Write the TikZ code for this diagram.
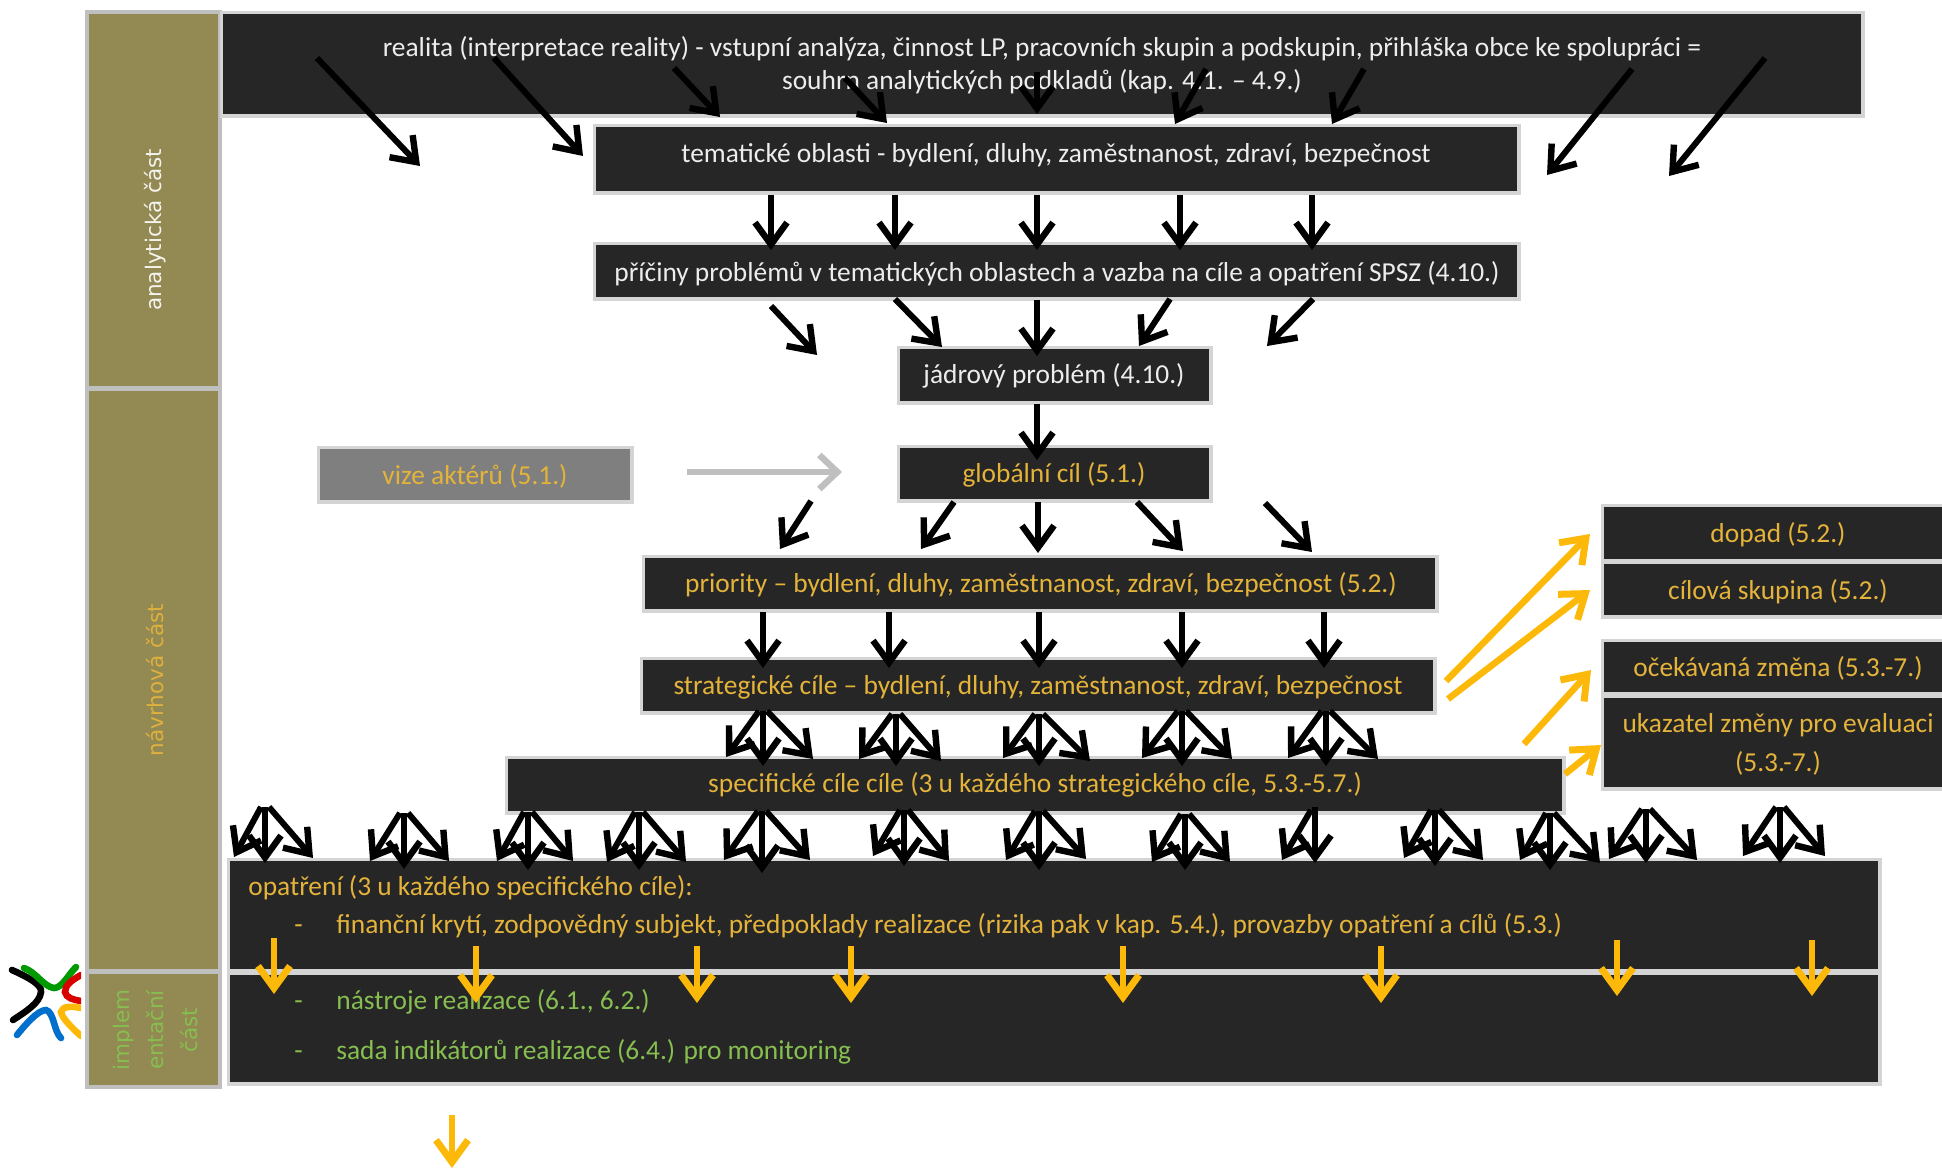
\documentclass[tikz,border=0pt]{standalone}
\usepackage{fontspec}
\setmainfont{Carlito}
\newfontfamily\vfont{DejaVu Sans}
\usetikzlibrary{arrows.meta}
\definecolor{boxdark}{HTML}{262626}
\definecolor{boxedge}{HTML}{D4D4D4}
\definecolor{olivebar}{HTML}{938953}
\definecolor{baredge}{HTML}{BFBFBF}
\definecolor{txtamber}{HTML}{E4B33A}
\definecolor{txtgreen}{HTML}{86BE50}
\definecolor{arramber}{HTML}{FDB90A}
\definecolor{visegray}{HTML}{7F7F7F}
\tikzset{
  x=0.5pt,y=-0.5pt,
  boxbase/.style={rectangle,inner sep=0pt,outer sep=0pt},
  darkbox/.style={boxbase,fill=boxdark,draw=boxedge,line width=1.75pt},
  graybox/.style={boxbase,fill=visegray,draw=boxedge,line width=1.75pt},
  barbox/.style={boxbase,fill=olivebar,draw=baredge,line width=2pt},
  plain/.style={inner sep=0pt,font=\fontsize{13.7}{16.5}\selectfont,align=center},
  txt/.style={plain,text height=11.2pt,text depth=2.8pt},
  whitetxt/.style={txt,text=white!93!black},
  ambertxt/.style={txt,text=txtamber},
  greentxt/.style={txt,text=txtgreen},
  sidetxt/.style={inner sep=0pt,rotate=90,align=center,font=\vfont\fontsize{10.75}{17}\selectfont},
  head/.style={-{Straight Barb[length=11pt,width=16pt,line width=3.2pt]}},
  blackarrow/.style={head,line width=3pt,draw=black},
  amberarrow/.style={-{Straight Barb[length=11pt,width=16pt,line width=3.5pt]},line width=3.3pt,draw=arramber},
  grayarrow/.style={line width=3pt,draw=baredge,-{Straight Barb[length=9pt,width=17pt,line width=3.2pt]}},
  logoline/.style={line width=3.3pt,line cap=round}
}
% box given by its corners, stroke lying outside the fill
\newcommand{\boxat}[6]{%
  \node[#6,minimum width={(#4-#2+3.5)*0.5pt},minimum height={(#5-#3+3.5)*0.5pt}] (#1) at ({(#2+#4)/2},{(#3+#5)/2}) {};}
% arrow between two named coordinates
\newcommand{\conn}[4]{%
  \coordinate (#1s) at (#2); \coordinate (#1e) at (#3); \draw[#4] (#1s) -- (#1e);}
% three arrows fanning out: name, cx, top, centre tip, left x, left y, right x, right y
\newcommand{\fan}[8]{%
  \conn{#1l}{#2-4,#3}{#5,#6}{blackarrow}
  \conn{#1r}{#2+4,#3}{#7,#8}{blackarrow}
  \conn{#1c}{#2,#3}{#2,#4}{blackarrow}}
\begin{document}
\begin{tikzpicture}
\useasboundingbox (0,0) rectangle (1942,1168);
% side bar
\boxat{barA}{89}{14}{218}{386}{barbox}
\boxat{barN}{89}{391}{218}{969}{barbox}
\boxat{barI}{89}{974}{218}{1085}{barbox}
\node[sidetxt,text=white!90!olivebar] (barAt) at (155,230) {analytická část};
\node[sidetxt,text=txtamber!92!olivebar] (barNt) at (155,680) {návrhová část};
\node[sidetxt,text=txtgreen] (barIt) at (155,1030) {implem\\entační\\část};
% logo
\begin{scope}
\clip (0,950) rectangle (81,1050);
\draw[logoline,draw=black] (12,970) .. controls (30,978) and (42,985) .. (41,992) .. controls (40,1003) and (25,1012) .. (13,1020);
\draw[logoline,draw=green!60!black] (24,968) .. controls (36,972) and (44,987) .. (54,988) .. controls (62,988) and (68,975) .. (76,967);
\draw[logoline,draw=red!85!black] (81,975) .. controls (72,980) and (65,985) .. (65,992) .. controls (66,998) and (74,1000) .. (81,1001);
\draw[logoline,draw=blue!45!cyan!80!black] (17,1035) .. controls (25,1025) and (38,1010) .. (46,1010) .. controls (54,1012) and (54,1032) .. (61,1038);
\draw[logoline,draw=arramber] (81,1036) .. controls (72,1028) and (62,1018) .. (61,1012) .. controls (62,1006) and (72,1006) .. (81,1008);
\end{scope}
% boxes
\boxat{real}{223}{14}{1861}{114}{darkbox}
\boxat{tema}{596}{127}{1517}{191}{darkbox}
\boxat{pric}{596}{245}{1517}{297}{darkbox}
\boxat{jadr}{900}{349}{1209}{401}{darkbox}
\boxat{glob}{900}{448}{1209}{499}{darkbox}
\boxat{vize}{320}{449}{630}{500}{graybox}
\boxat{prio}{645}{558}{1435}{609}{darkbox}
\boxat{stra}{643}{660}{1433}{711}{darkbox}
\boxat{spec}{508}{759}{1562}{811}{darkbox}
\boxat{opat}{230}{861}{1878}{969}{darkbox}
\boxat{nast}{230}{975}{1878}{1082}{darkbox}
\boxat{dopa}{1604}{507}{1952}{559}{darkbox}
\boxat{cilo}{1604}{564}{1952}{615}{darkbox}
\boxat{ocek}{1604}{642}{1952}{692}{darkbox}
\boxat{ukaz}{1604}{698}{1952}{787}{darkbox}
% texts
\node[plain,text=white!93!black] (realt) at (1042,65.5) {realita (interpretace reality) - vstupní analýza, činnost LP, pracovních skupin a podskupin, přihláška obce ke spolupráci =\\souhrn analytických podkladů (kap. 4.1. -- 4.9.)};
\node[whitetxt] (temat) at (1056,154.5) {tematické oblasti - bydlení, dluhy, zaměstnanost, zdraví, bezpečnost};
\node[whitetxt] (prict) at (1057,273) {příčiny problémů v tematických oblastech a vazba na cíle a opatření SPSZ (4.10.)};
\node[whitetxt] (jadrt) at (1054,375) {jádrový problém (4.10.)};
\node[ambertxt] (globt) at (1054,474.5) {globální cíl (5.1.)};
\node[ambertxt] (vizet) at (475,476) {vize aktérů (5.1.)};
\node[ambertxt] (priot) at (1041,584) {priority -- bydlení, dluhy, zaměstnanost, zdraví, bezpečnost (5.2.)};
\node[ambertxt] (strat) at (1038,686) {strategické cíle -- bydlení, dluhy, zaměstnanost, zdraví, bezpečnost};
\node[ambertxt] (spect) at (1035,784) {specifické cíle cíle (3 u každého strategického cíle, 5.3.-5.7.)};
\node[ambertxt,anchor=west] (opatt) at (248,887) {opatření (3 u každého specifického cíle):};
\node[ambertxt,anchor=west] (opatd) at (294,925) {-};
\node[ambertxt,anchor=west] (opatl) at (336,925) {finanční krytí, zodpovědný subjekt, předpoklady realizace (rizika pak v kap. 5.4.), provazby opatření a cílů (5.3.)};
\node[greentxt,anchor=west] (nastd) at (294,1001) {-};
\node[greentxt,anchor=west] (nastt) at (336,1001) {nástroje realizace (6.1., 6.2.)};
\node[greentxt,anchor=west] (sadad) at (294,1051) {-};
\node[greentxt,anchor=west] (sadat) at (336,1051) {sada indikátorů realizace (6.4.) pro monitoring};
\node[ambertxt] (dopat) at (1778,534) {dopad (5.2.)};
\node[ambertxt] (cilot) at (1778,591) {cílová skupina (5.2.)};
\node[ambertxt] (ocekt) at (1778,668) {očekávaná změna (5.3.-7.)};
\node[plain,text=txtamber] (ukazt) at (1778,744.5) {ukazatel změny pro evaluaci\\[3pt](5.3.-7.)};
% arrows: reality to themes
\conn{a1}{317,58}{420,166}{blackarrow}
\conn{a2}{494,58}{583,156}{blackarrow}
\conn{a3}{674,68}{720,117}{blackarrow}
\conn{a4}{845,78}{887,123}{blackarrow}
\conn{a5}{1037,72}{1037,114}{blackarrow}
\conn{a6}{1206,69}{1175,124}{blackarrow}
\conn{a7}{1364,69}{1332,124}{blackarrow}
\conn{a8}{1632,69}{1547,175}{blackarrow}
\conn{a9}{1765,58}{1669,176}{blackarrow}
% themes to causes
\foreach \i/\cx in {1/771,2/895,3/1037,4/1180,5/1312}{\conn{b\i}{\cx,195}{\cx,250}{blackarrow}}
% causes to core problem
\conn{c1}{771,306}{817,355}{blackarrow}
\conn{c2}{895,299}{942,347}{blackarrow}
\conn{c3}{1037,300}{1037,356}{blackarrow}
\conn{c4}{1170,299}{1139,346}{blackarrow}
\conn{c5}{1313,299}{1267,346}{blackarrow}
% core problem to goal, vision to goal
\conn{d1}{1037,404}{1037,460}{blackarrow}
\conn{v1}{687,472}{842,472}{grayarrow}
% goal to priorities
\conn{e1}{811,501}{780,549}{blackarrow}
\conn{e2}{954,502}{921,549}{blackarrow}
\conn{e3}{1038,502}{1038,553}{blackarrow}
\conn{e4}{1137,502}{1183,551}{blackarrow}
\conn{e5}{1265,503}{1312,552}{blackarrow}
% priorities to strategic goals
\foreach \i/\cx in {1/763,2/889,3/1039,4/1182,5/1324}{\conn{f\i}{\cx,612}{\cx,668}{blackarrow}}
% strategic to specific
\fan{g1}{763}{711}{766}{726}{757}{813}{759}
\fan{g2}{896}{714}{766}{859}{759}{941}{761}
\fan{g3}{1039}{714}{766}{1003}{758}{1090}{761}
\fan{g4}{1182}{711}{766}{1142}{758}{1232}{759}
\fan{g5}{1326}{711}{766}{1288}{758}{1378}{759}
% specific to measures
\fan{h1}{265}{807}{863}{234}{857}{313}{858}
\fan{h2}{404}{813}{869}{370}{861}{449}{861}
\fan{h3}{528}{812}{870}{497}{861}{573}{861}
\fan{h4}{639}{812}{870}{607}{862}{686}{862}
\fan{h5}{762}{811}{873}{724}{860}{810}{860}
\fan{h6}{904}{810}{866}{873}{856}{949}{861}
\fan{h7}{1039}{811}{870}{1006}{860}{1086}{859}
\fan{h8}{1185}{814}{870}{1152}{862}{1230}{862}
\conn{h9l}{1311,810}{1282,860}{blackarrow}
\conn{h9c}{1315,807}{1315,863}{blackarrow}
\fan{h10}{1435}{810}{866}{1404}{858}{1483}{860}
\fan{h11}{1550}{813}{870}{1520}{860}{1600}{863}
\fan{h12}{1646}{809}{863}{1609}{859}{1697}{860}
\fan{h13}{1780}{807}{863}{1743}{856}{1825}{856}
% amber arrows
\conn{k1}{1446,681}{1590,534}{amberarrow}
\conn{k2}{1448,699}{1590,590}{amberarrow}
\conn{k3}{1524,744}{1591,670}{amberarrow}
\conn{k4}{1565,774}{1601,745}{amberarrow}
\foreach \i/\cx/\ya/\yb in {1/274/938/994,2/476/946/1003,3/697/946/1003,4/851/946/1003,5/1123/946/1003,6/1381/946/1003,7/1617/940/996,8/1812/940/996,9/452/1115/1168}{\conn{m\i}{\cx,\ya}{\cx,\yb}{amberarrow}}
\end{tikzpicture}
\end{document}
